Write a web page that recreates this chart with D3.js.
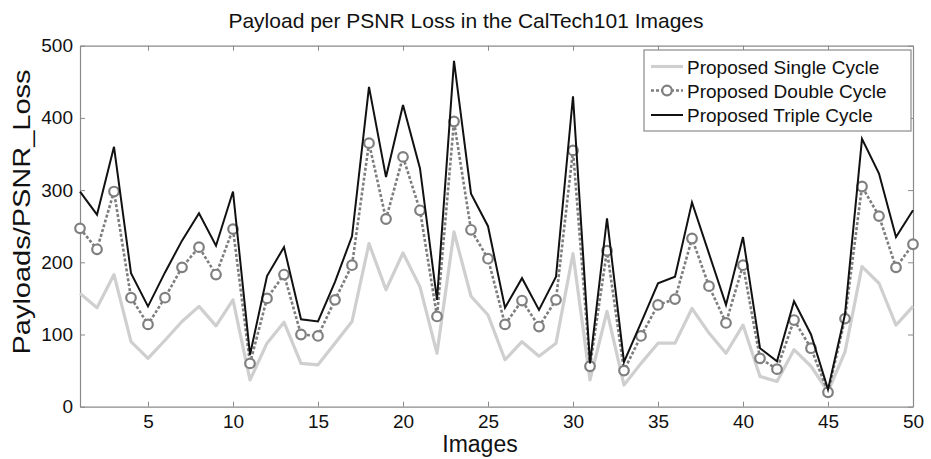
<!DOCTYPE html>
<html lang="en">
<head>
  <title>Payload per PSNR Loss</title>
  <script src="https://d3js.org/d3.v7.min.js" charset="utf-8"></script>
  <style>
    body { margin: 0; background: #fff; }
    text { font-family: "Liberation Sans", Arial, sans-serif; fill: #111; }
  </style>
</head>
<body>
  <script>

    // values, one per image (1..50)
    var images = d3.range(1, 51);
    var single = [157, 137, 183, 90, 67, 92, 118, 139, 112, 148, 37, 88, 117, 60, 58, 88, 118, 226, 162, 213,
                  166, 74, 242, 153, 127, 65, 90, 70, 88, 212, 37, 132, 30, 60, 88, 88, 136, 102, 74, 113,
                  42, 35, 79, 56, 21, 76, 194, 171, 113, 139];
    var double = [247, 218, 298, 151, 114, 151, 193, 221, 183, 246, 60, 150, 183, 100, 98, 148, 196, 365, 260, 346,
                  272, 125, 395, 245, 205, 114, 147, 111, 148, 355, 56, 216, 50, 98, 141, 149, 233, 167, 116, 196,
                  67, 52, 120, 81, 20, 122, 305, 264, 193, 225];
    var triple = [298, 266, 360, 185, 139, 186, 230, 268, 223, 298, 72, 181, 221, 121, 118, 173, 236, 443, 318, 418,
                  330, 148, 479, 295, 250, 137, 178, 134, 180, 430, 60, 261, 62, 116, 171, 180, 283, 212, 141, 235,
                  81, 63, 146, 100, 24, 128, 371, 323, 235, 272];
    var xTicks = [5, 10, 15, 20, 25, 30, 35, 40, 45, 50];
    var yTicks = [0, 100, 200, 300, 400, 500];
    var seriesNames = ["Proposed Single Cycle", "Proposed Double Cycle", "Proposed Triple Cycle"];

    var w = 931;
    var h = 459;
    // plot box (note: "top" is taken by window.top, so prefixed names)
    var pLeft = 80, pRight = 913, pTop = 45.7, pBottom = 406.7;

    var svg = d3.select("body")
      .append("svg")
      .attr("width", w)
      .attr("height", h);

    var x = d3.scaleLinear().domain([1, 50]).range([pLeft, pRight]);
    var y = d3.scaleLinear().domain([0, 500]).range([pBottom, pTop]);

    // axes, matlab style: box with ticks pointing inward on every side
    var axisColor = "#8a8a8a";
    function styleAxis(g) {
      g.select(".domain").attr("stroke", axisColor).attr("stroke-width", 1.2);
      g.selectAll(".tick line").attr("stroke", axisColor);
      g.selectAll(".tick text")
        .attr("fill", "#111")
        .style("font-family", "'Liberation Sans', Arial, sans-serif")
        .style("font-size", "19px");
    }

    svg.append("g")
      .attr("transform", "translate(0," + pBottom + ")")
      .call(d3.axisBottom(x).tickValues(xTicks).tickSizeInner(-5).tickSizeOuter(0).tickPadding(8))
      .call(styleAxis);
    svg.append("g")
      .attr("transform", "translate(0," + pTop + ")")
      .call(d3.axisTop(x).tickValues(xTicks).tickSizeInner(-5).tickSizeOuter(0).tickFormat(""))
      .call(styleAxis);
    svg.append("g")
      .attr("transform", "translate(" + pLeft + ",0)")
      .call(d3.axisLeft(y).tickValues(yTicks).tickSizeInner(-5).tickSizeOuter(0).tickPadding(7))
      .call(styleAxis);
    svg.append("g")
      .attr("transform", "translate(" + pRight + ",0)")
      .call(d3.axisRight(y).tickValues(yTicks).tickSizeInner(-5).tickSizeOuter(0).tickFormat(""))
      .call(styleAxis);

    var line = d3.line()
      .x(function(d, i) { return x(images[i]); })
      .y(function(d) { return y(d); });

    // single cycle: thick light grey
    svg.append("path")
      .attr("d", line(single))
      .attr("fill", "none")
      .attr("stroke", "#cfcfcf")
      .attr("stroke-width", 3.2)
      .attr("stroke-linejoin", "round");

    // double cycle: dotted grey with open circles
    svg.append("path")
      .attr("d", line(double))
      .attr("fill", "none")
      .attr("stroke", "#7e7e7e")
      .attr("stroke-width", 2.6)
      .attr("stroke-dasharray", "3,2");

    svg.selectAll(".dbl")
      .data(double)
      .enter()
      .append("circle")
      .attr("class", "dbl")
      .attr("cx", function(d, i) { return x(images[i]); })
      .attr("cy", function(d) { return y(d); })
      .attr("r", 4.8)
      .attr("fill", "#fff")
      .attr("stroke", "#808080")
      .attr("stroke-width", 2.2);

    // triple cycle: solid black
    svg.append("path")
      .attr("d", line(triple))
      .attr("fill", "none")
      .attr("stroke", "#111")
      .attr("stroke-width", 2)
      .attr("stroke-linejoin", "miter");

    // legend
    var lg = svg.append("g").attr("transform", "translate(644,50)");
    lg.append("rect")
      .attr("width", 267)
      .attr("height", 81)
      .attr("fill", "#fff")
      .attr("stroke", "#8a8a8a")
      .attr("stroke-width", 1.2);

    var rows = [16.5, 40.5, 65];
    seriesNames.forEach(function(name, i) {
      var ry = rows[i];
      var sample = lg.append("line")
        .attr("x1", 7).attr("x2", 39)
        .attr("y1", ry).attr("y2", ry);
      if (i == 0) sample.attr("stroke", "#cfcfcf").attr("stroke-width", 3.2);
      if (i == 1) {
        sample.attr("stroke", "#7e7e7e").attr("stroke-width", 2.6).attr("stroke-dasharray", "3,2");
        lg.append("circle")
          .attr("cx", 23).attr("cy", ry).attr("r", 4.8)
          .attr("fill", "#fff").attr("stroke", "#808080").attr("stroke-width", 2.2);
      }
      if (i == 2) sample.attr("stroke", "#111").attr("stroke-width", 2);
      lg.append("text")
        .attr("x", 43)
        .attr("y", ry + 7)
        .style("font-size", "19px")
        .text(name);
    });

    // title and axis labels
    svg.append("text")
      .attr("x", 466)
      .attr("y", 28)
      .attr("text-anchor", "middle")
      .style("font-size", "21px")
      .text("Payload per PSNR Loss in the CalTech101 Images");

    svg.append("text")
      .attr("x", 480)
      .attr("y", 452)
      .attr("text-anchor", "middle")
      .style("font-size", "23px")
      .text("Images");

    // the original font is a narrow one, so stretch along the text
    svg.append("text")
      .attr("transform", "translate(30,212) rotate(-90)")
      .attr("text-anchor", "middle")
      .attr("textLength", 285)
      .attr("lengthAdjust", "spacingAndGlyphs")
      .style("font-size", "24px")
      .text("Payloads/PSNR_Loss");

  </script>
</body>
</html>
